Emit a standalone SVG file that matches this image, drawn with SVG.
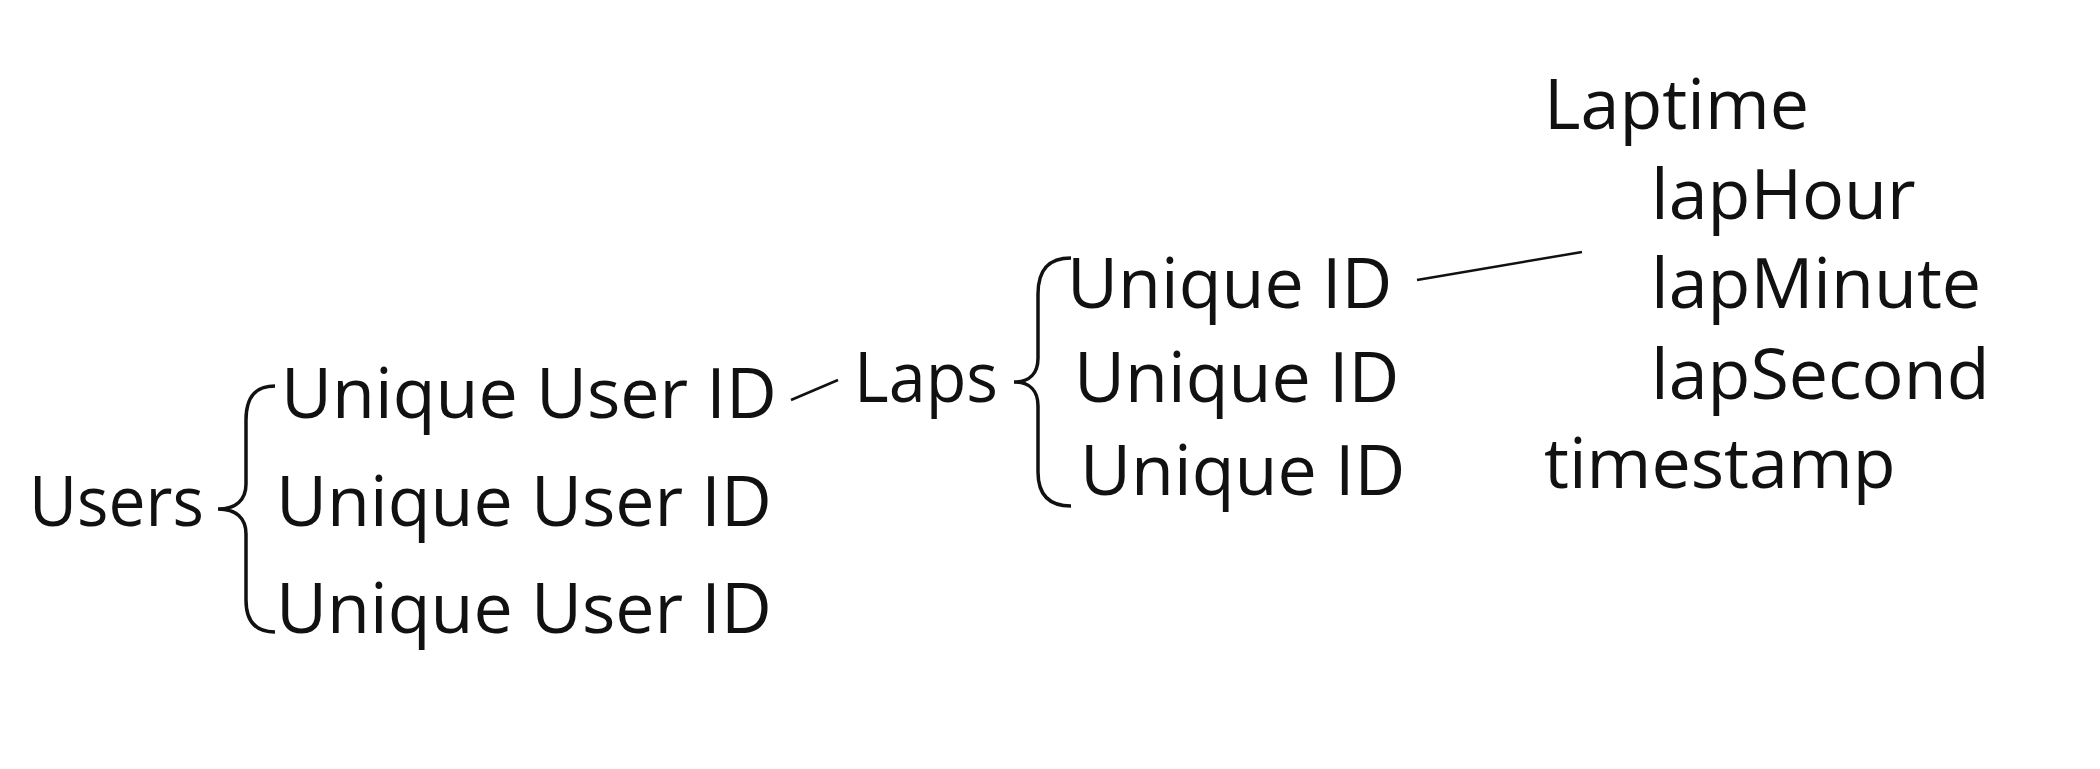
<svg xmlns="http://www.w3.org/2000/svg" width="2100" height="769" viewBox="0 0 2100 769">
<style>
text{font-family:"Open Sans","Noto Sans","Liberation Sans",sans-serif;font-size:70px;fill:#111}
.brace{fill:none;stroke:#111;stroke-width:3.5}
.conn{stroke:#111;stroke-width:2.5;fill:none}
</style>
<rect width="2100" height="769" fill="#fff"/>
<g id="users"><text x="29" y="526" textLength="175" lengthAdjust="spacingAndGlyphs">Users</text></g>
<g id="brace-users"><path class="brace" d="M275 386 C256 386 246 396 246 420 L246 484 C246 500 236 509 218 509 C236 509 246 518 246 534 L246 600 C246 622 256 632 275 632"/></g>
<g id="user1"><text x="281" y="418">Unique User ID</text></g>
<g id="user2"><text x="276" y="526">Unique User ID</text></g>
<g id="user3"><text x="276" y="633">Unique User ID</text></g>
<g id="laps"><text x="854" y="402" textLength="144" lengthAdjust="spacingAndGlyphs">Laps</text></g>
<g id="brace-laps"><path class="brace" d="M1071 258 C1050 258 1038 268 1038 294 L1038 358 C1038 373 1030 382 1014 382 C1030 382 1038 391 1038 406 L1038 472 C1038 496 1050 506 1071 506"/></g>
<g id="lap1"><text x="1067" y="308">Unique ID</text></g>
<g id="lap2"><text x="1074" y="402">Unique ID</text></g>
<g id="lap3"><text x="1080" y="495">Unique ID</text></g>
<g id="laptime"><text x="1544" y="129">Laptime</text></g>
<g id="lapHour"><text x="1651" y="219">lapHour</text></g>
<g id="lapMinute"><text x="1651" y="308">lapMinute</text></g>
<g id="lapSecond"><text x="1651" y="399">lapSecond</text></g>
<g id="timestamp"><text x="1544" y="488">timestamp</text></g>
<g id="connectors">
<line class="conn" x1="791" y1="400" x2="838" y2="380"/>
<line class="conn" x1="1417" y1="280" x2="1582" y2="252"/>
</g>
</svg>
